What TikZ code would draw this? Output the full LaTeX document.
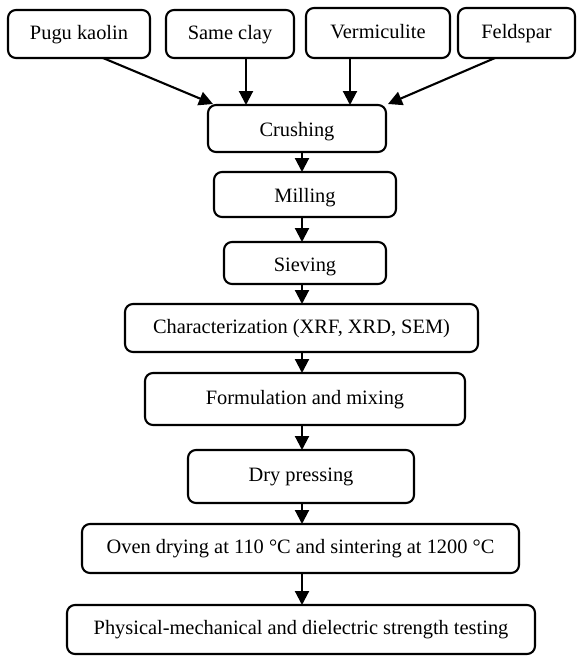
\documentclass[tikz,border=0pt]{standalone}
\usepackage{fontspec}
\setmainfont{Liberation Serif}
\usetikzlibrary{arrows.meta}
\begin{document}
\begin{tikzpicture}[x=1pt,y=-1pt,
  box/.style={draw, line width=2.1pt, rounded corners=8pt, inner sep=0pt, outer sep=0pt,
    font=\fontsize{20.4}{24}\selectfont, text height=14pt, text depth=4pt, align=center},
  low/.style={text height=17pt, text depth=1pt},
  arr/.style={line width=2.1pt, -{Triangle[length=14pt,width=14pt]}}]
\useasboundingbox (0,0) rectangle (577,656);
\node[box, minimum width=142pt, minimum height=48pt] (pugu) at (79,34) {Pugu kaolin};
\node[box, minimum width=128pt, minimum height=48pt] (same) at (230,34) {Same clay};
\node[box, minimum width=144pt, minimum height=50pt] (verm) at (378,33) {Vermiculite};
\node[box, minimum width=117pt, minimum height=50pt] (feld) at (516.5,33) {Feldspar};
\node[box, low, minimum width=178pt, minimum height=47pt] (crush) at (297,128.5) {Crushing};
\node[box, low, minimum width=182pt, minimum height=45pt] (mill) at (305,194.5) {Milling};
\node[box, low, minimum width=162pt, minimum height=42pt] (siev) at (305,263) {Sieving};
\node[box, minimum width=353pt, minimum height=48pt] (char) at (301.5,328) {Characterization (XRF, XRD, SEM)};
\node[box, minimum width=320pt, minimum height=52pt] (form) at (305,399) {Formulation and mixing};
\node[box, minimum width=226pt, minimum height=53pt] (dry) at (301,476.5) {Dry pressing};
\node[box, minimum width=437pt, minimum height=49pt] (oven) at (300.5,548.5) {Oven drying at 110 °C and sintering at 1200 °C};
\node[box, minimum width=468pt, minimum height=49pt] (phys) at (301,629.5) {Physical-mechanical and dielectric strength testing};
\coordinate (axis) at (302,0);
\coordinate (tp) at (213,104);
\coordinate (tf) at (388,104);
\draw[arr] (pugu.south -| 103,0) -- (tp);
\draw[arr] (same.south -| 246,0) -- (crush.north -| 246,0);
\draw[arr] (verm.south -| 350,0) -- (crush.north -| 350,0);
\draw[arr] (feld.south -| 495,0) -- (tf);
\draw[arr] (crush.south -| axis) -- (mill.north -| axis);
\draw[arr] (mill.south -| axis) -- (siev.north -| axis);
\draw[arr] (siev.south -| axis) -- (char.north -| axis);
\draw[arr] (char.south -| axis) -- (form.north -| axis);
\draw[arr] (form.south -| axis) -- (dry.north -| axis);
\draw[arr] (dry.south -| axis) -- (oven.north -| axis);
\draw[arr] (oven.south -| axis) -- (phys.north -| axis);
\end{tikzpicture}
\end{document}
